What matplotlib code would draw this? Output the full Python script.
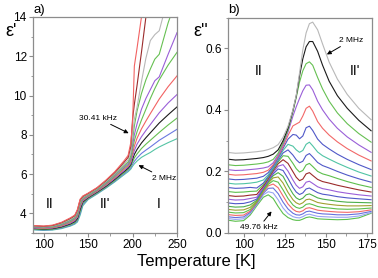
import matplotlib
matplotlib.use('Agg')
import matplotlib.pyplot as plt
from matplotlib.ticker import MultipleLocator, FormatStrFormatter

plt.rcParams['font.family'] = ['Liberation Sans', 'DejaVu Sans']

# ---- panel a: eps' vs T, lines listed from 2 MHz (bottom) up to 30.41 kHz (top)
temp_a = [88, 100, 110, 120, 130, 135, 138, 141, 144, 150, 160, 170, 180, 190,
          195, 198, 200, 202, 205, 210, 215, 220, 225, 230, 240, 250]

ea_01 = [3.16, 3.13, 3.15, 3.22, 3.35, 3.45, 3.56, 3.90, 4.38, 4.70, 4.98, 5.28, 5.60, 5.95,
         6.12, 6.25, 6.40, 6.52, 6.66, 6.85, 6.98, 7.10, 7.25, 7.38, 7.60, 7.80]
ea_02 = [3.18, 3.15, 3.17, 3.25, 3.38, 3.49, 3.62, 4.00, 4.45, 4.73, 5.01, 5.31, 5.64, 6.00,
         6.18, 6.32, 6.50, 6.65, 6.82, 7.05, 7.22, 7.38, 7.55, 7.72, 8.00, 8.28]
ea_03 = [3.20, 3.17, 3.19, 3.28, 3.42, 3.53, 3.68, 4.10, 4.52, 4.76, 5.04, 5.34, 5.68, 6.05,
         6.24, 6.40, 6.62, 6.82, 7.02, 7.30, 7.52, 7.72, 7.92, 8.12, 8.50, 8.85]
ea_04 = [3.23, 3.20, 3.22, 3.31, 3.46, 3.58, 3.74, 4.20, 4.58, 4.80, 5.08, 5.38, 5.73, 6.11,
         6.30, 6.48, 6.75, 7.00, 7.25, 7.58, 7.85, 8.10, 8.35, 8.60, 9.02, 9.42]
ea_05 = [3.25, 3.22, 3.25, 3.34, 3.50, 3.63, 3.80, 4.30, 4.63, 4.83, 5.11, 5.42, 5.78, 6.17,
         6.36, 6.56, 6.90, 7.20, 7.52, 7.90, 8.22, 8.52, 8.82, 9.12, 9.62, 10.05]
ea_06 = [3.27, 3.24, 3.27, 3.37, 3.54, 3.68, 3.86, 4.38, 4.68, 4.86, 5.14, 5.46, 5.83, 6.23,
         6.42, 6.64, 7.05, 7.42, 7.82, 8.30, 8.70, 9.08, 9.45, 9.82, 10.45, 11.00]
ea_07 = [3.29, 3.26, 3.30, 3.40, 3.58, 3.72, 3.92, 4.45, 4.72, 4.89, 5.17, 5.50, 5.88, 6.29,
         6.48, 6.72, 7.25, 7.70, 8.15, 8.75, 9.30, 9.85, 10.35, 10.80, 11.55, 12.20]
ea_08 = [3.31, 3.28, 3.32, 3.43, 3.62, 3.76, 3.98, 4.52, 4.76, 4.92, 5.20, 5.54, 5.93, 6.35,
         6.54, 6.80, 7.45, 8.00, 8.55, 9.30, 9.85, 10.30, 10.75, 10.95, 12.10, 13.20]
ea_09 = [3.33, 3.30, 3.34, 3.46, 3.66, 3.80, 4.04, 4.58, 4.80, 4.95, 5.23, 5.58, 5.98, 6.42,
         6.62, 6.92, 7.75, 8.45, 9.20, 10.10, 10.80, 11.35, 11.85, 12.10, 13.70, 15.00]
ea_10 = [3.35, 3.32, 3.36, 3.49, 3.70, 3.84, 4.10, 4.63, 4.83, 4.98, 5.26, 5.62, 6.03, 6.50,
         6.72, 7.10, 8.00, 8.80, 9.40, 10.70, 11.90, 12.80, 13.10, 13.30, 15.00, 16.00]
ea_11 = [3.37, 3.34, 3.38, 3.52, 3.74, 3.88, 4.16, 4.68, 4.86, 5.01, 5.29, 5.66, 6.08, 6.58,
         6.85, 7.40, 8.80, 9.55, 10.50, 12.20, 14.00, 15.20, 16.00, 16.50, 17.00, 17.50]
ea_12 = [3.38, 3.35, 3.40, 3.54, 3.77, 3.91, 4.20, 4.72, 4.88, 5.03, 5.31, 5.69, 6.12, 6.65,
         6.95, 7.60, 8.60, 11.50, 12.40, 14.00, 15.50, 16.50, 17.00, 17.50, 18.00, 18.50]

colors_a = ['#55c4a5', '#6a78e0', '#66c052', '#1a1a1a', '#9a5fd8', '#f26262',
            '#66c052', '#9a5fd8', '#66c052', '#b8b8b8', '#9b2b2b', '#f26262']

# ---- panel b: eps'' vs T, lines listed from 49.76 kHz (bottom) up to 2 MHz (top)
temp_b = [90, 95, 100, 104, 108, 112, 115, 118, 121, 124, 127, 130, 132, 134, 136,
          138, 140, 142, 145, 148, 152, 157, 163, 170, 177.5]

eb_01 = [.042, .038, .040, .058, .088, .116, .124, .112, .086, .063, .050, .043, .041, .041, .045,
         .050, .052, .050, .046, .045, .044, .043, .044, .049, .064]
eb_02 = [.047, .044, .046, .063, .092, .124, .134, .130, .108, .081, .063, .053, .050, .049, .053,
         .059, .061, .058, .054, .053, .052, .051, .051, .055, .066]
eb_03 = [.053, .050, .052, .067, .095, .129, .145, .146, .128, .100, .078, .064, .059, .058, .062,
         .069, .071, .068, .064, .062, .061, .059, .059, .062, .070]
eb_04 = [.060, .057, .058, .071, .098, .133, .153, .159, .147, .120, .094, .077, .070, .068, .072,
         .080, .082, .079, .074, .072, .070, .068, .067, .069, .075]
eb_05 = [.068, .065, .066, .076, .100, .136, .158, .170, .165, .140, .112, .091, .083, .080, .084,
         .093, .095, .092, .086, .083, .081, .078, .077, .078, .081]
eb_06 = [.077, .074, .075, .083, .103, .139, .162, .179, .182, .162, .132, .108, .098, .093, .098,
         .108, .110, .106, .099, .096, .093, .090, .088, .088, .089]
eb_07 = [.087, .084, .085, .091, .106, .142, .166, .186, .196, .184, .154, .127, .114, .108, .113,
         .124, .127, .122, .114, .110, .107, .103, .100, .099, .098]
eb_08 = [.098, .095, .096, .101, .110, .145, .170, .192, .208, .203, .177, .148, .133, .125, .130,
         .143, .146, .140, .131, .126, .123, .118, .114, .111, .108]
eb_09 = [.110, .107, .108, .112, .116, .148, .173, .197, .217, .222, .201, .172, .155, .145, .150,
         .165, .168, .161, .150, .144, .140, .134, .129, .124, .120]
eb_10 = [.122, .119, .120, .123, .125, .152, .176, .202, .225, .238, .226, .199, .181, .170, .175,
         .192, .196, .187, .174, .167, .162, .155, .148, .140, .133]
eb_11 = [.135, .132, .133, .135, .136, .157, .180, .206, .231, .251, .249, .226, .209, .198, .203,
         .221, .226, .216, .200, .192, .186, .177, .167, .157, .148]
eb_12 = [.148, .145, .146, .148, .146, .162, .184, .210, .236, .260, .270, .253, .238, .228, .233,
         .252, .258, .247, .229, .219, .211, .200, .188, .176, .165]
eb_13 = [.162, .159, .160, .162, .165, .172, .189, .214, .241, .268, .288, .282, .270, .262, .268,
         .288, .295, .283, .263, .251, .240, .227, .213, .198, .185]
eb_14 = [.176, .173, .174, .176, .178, .184, .196, .218, .245, .275, .305, .320, .318, .306, .315,
         .342, .347, .333, .305, .288, .273, .256, .239, .222, .206]
eb_15 = [.191, .188, .189, .191, .193, .197, .204, .222, .249, .281, .317, .348, .354, .360, .380,
         .405, .412, .396, .362, .340, .318, .296, .274, .253, .234]
eb_16 = [.206, .203, .204, .206, .208, .211, .215, .228, .254, .287, .328, .380, .410, .437, .462,
         .480, .481, .465, .428, .400, .370, .340, .312, .286, .262]
eb_17 = [.222, .219, .220, .222, .224, .227, .231, .239, .259, .293, .335, .395, .440, .490, .527,
         .550, .556, .545, .505, .468, .428, .390, .355, .323, .295]
eb_18 = [.240, .237, .238, .240, .242, .245, .249, .256, .270, .300, .341, .398, .445, .510, .566,
         .605, .622, .622, .590, .545, .493, .446, .405, .366, .332]
eb_19 = [.262, .259, .260, .262, .264, .267, .271, .277, .287, .311, .347, .400, .447, .520, .595,
         .650, .680, .685, .660, .614, .555, .500, .450, .405, .368]

colors_b = ['#5cbf4c', '#98a4f2', '#6670dc', '#f26868', '#5cbf4c', '#a0a030', '#4caf4c',
            '#5058c8', '#9a5fd8', '#9b2b2b', '#5cbf4c', '#5058c8', '#50c4a4', '#5058c8',
            '#f26868', '#9a5fd8', '#66c052', '#1a1a1a', '#b8b8b8']

curves_a = [ea_01, ea_02, ea_03, ea_04, ea_05, ea_06, ea_07, ea_08, ea_09, ea_10, ea_11, ea_12]
curves_b = [eb_01, eb_02, eb_03, eb_04, eb_05, eb_06, eb_07, eb_08, eb_09, eb_10,
            eb_11, eb_12, eb_13, eb_14, eb_15, eb_16, eb_17, eb_18, eb_19]

fig = plt.figure(figsize=(3.78, 2.78), dpi=100)
ax1 = fig.add_axes([0.0873, 0.162, 0.381, 0.777])
ax2 = fig.add_axes([0.603, 0.162, 0.381, 0.775])


def style_axes(ax):
    for s in ax.spines.values():
        s.set_color('#8c8c8c')
        s.set_linewidth(0.9)
    ax.tick_params(which='major', direction='out', length=3, width=0.8,
                   color='#8c8c8c', labelsize=8.5, pad=1.5)
    ax.tick_params(which='minor', direction='out', length=1.8, width=0.6, color='#8c8c8c')


for vals, c in zip(curves_a, colors_a):
    ax1.plot(temp_a, vals, color=c, lw=0.8)
ax1.set_xlim(88, 250)
ax1.set_ylim(3, 14)
ax1.xaxis.set_major_locator(MultipleLocator(50))
ax1.xaxis.set_minor_locator(MultipleLocator(25))
ax1.yaxis.set_major_locator(MultipleLocator(2))
ax1.yaxis.set_minor_locator(MultipleLocator(1))
style_axes(ax1)

for vals, c in zip(curves_b, colors_b):
    ax2.plot(temp_b, vals, color=c, lw=0.8)
ax2.set_xlim(90.5, 178)
ax2.set_ylim(0, 0.7)
ax2.xaxis.set_major_locator(MultipleLocator(25))
ax2.xaxis.set_minor_locator(MultipleLocator(12.5))
ax2.yaxis.set_major_locator(MultipleLocator(0.2))
ax2.yaxis.set_minor_locator(MultipleLocator(0.1))
ax2.yaxis.set_major_formatter(FormatStrFormatter('%.1f'))
style_axes(ax2)

# labels
fig.text(0.028, 0.885, "ε'", fontsize=13, ha='center', va='center')
fig.text(0.53, 0.885, "ε''", fontsize=13, ha='center', va='center')
fig.text(0.088, 0.965, 'a)', fontsize=9.5, ha='left', va='center')
fig.text(0.603, 0.965, 'b)', fontsize=9.5, ha='left', va='center')
fig.text(0.52, 0.058, 'Temperature [K]', fontsize=12, ha='center', va='center')

# phase labels
for tx, s in [(106.7, 'II'), (168.9, "II'"), (228.9, 'I')]:
    ax1.text(tx, 4.5, s, fontsize=10, ha='center', va='center')
for tx, s in [(109, 'II'), (167.8, "II'")]:
    ax2.text(tx, 0.525, s, fontsize=10, ha='center', va='center')

arrow = dict(arrowstyle='-|>', color='black', lw=0.7, mutation_scale=6, shrinkA=0, shrinkB=0)
ax1.annotate('30.41 kHz', xy=(195.6, 8.08), xytext=(161, 8.85), fontsize=6,
             ha='center', va='center', arrowprops=arrow)
ax1.annotate('2 MHz', xy=(206.7, 6.45), xytext=(235.6, 5.79), fontsize=6,
             ha='center', va='center', arrowprops=arrow)
ax2.annotate('2 MHz', xy=(150.6, 0.58), xytext=(165.4, 0.626), fontsize=6,
             ha='center', va='center', arrowprops=arrow)
ax2.annotate('49.76 kHz', xy=(117, 0.07), xytext=(109.3, 0.018), fontsize=6,
             ha='center', va='center', arrowprops=arrow)

fig.savefig('out.png', dpi=100)
